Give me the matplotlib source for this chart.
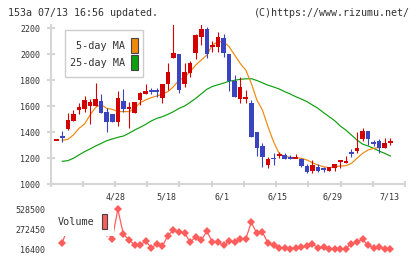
import numpy as np
import matplotlib
matplotlib.use("Agg")
import matplotlib.pyplot as plt
from matplotlib.patches import Rectangle

# ── Data ──────────────────────────────────────────────────────────────────────
opens = [1340, 1360, 1424, 1488, 1570, 1576, 1601, 1601, 1640, 1555,
         1540, 1475, 1640, 1576, 1550, 1648, 1694, 1717, 1717, 1666,
         1768, 1969, 2000, 1768, 1853, 2007, 2136, 2192, 2054, 2059,
         2123, 2002, 1797, 1653, 1658, 1622, 1398, 1293, 1146, 1203,
         1224, 1224, 1203, 1203, 1190, 1141, 1103, 1128, 1113, 1103,
         1126, 1177, 1164, 1241, 1257, 1347, 1408, 1313, 1331, 1280, 1326]
highs = [1340, 1408, 1545, 1570, 1622, 1678, 1658, 1781, 1694, 1583,
         1540, 1719, 1732, 1632, 1632, 1712, 1771, 1737, 1737, 1771,
         1935, 2260, 2000, 1930, 1951, 2157, 2250, 2213, 2105, 2169,
         2154, 2002, 1840, 1822, 1725, 1648, 1398, 1313, 1206, 1236,
         1249, 1241, 1220, 1230, 1198, 1154, 1185, 1154, 1133, 1133,
         1154, 1177, 1216, 1267, 1398, 1429, 1408, 1339, 1344, 1352, 1352]
lows = [1340, 1321, 1416, 1488, 1540, 1558, 1462, 1601, 1545, 1403,
        1475, 1447, 1553, 1434, 1550, 1609, 1694, 1694, 1673, 1622,
        1725, 1969, 1704, 1750, 1822, 1966, 2072, 1969, 2020, 2020,
        1976, 1720, 1668, 1622, 1622, 1360, 1218, 1128, 1121, 1146,
        1198, 1190, 1195, 1198, 1133, 1087, 1082, 1095, 1095, 1103,
        1103, 1121, 1159, 1211, 1236, 1334, 1301, 1290, 1236, 1280, 1301]
closes = [1340, 1360, 1493, 1540, 1596, 1648, 1632, 1653, 1545, 1475,
          1475, 1663, 1578, 1594, 1632, 1704, 1719, 1717, 1717, 1771,
          1863, 2007, 1725, 1863, 1935, 2149, 2192, 2000, 2069, 2131,
          2007, 1797, 1668, 1745, 1668, 1360, 1275, 1206, 1193, 1195,
          1224, 1195, 1203, 1203, 1141, 1092, 1146, 1100, 1113, 1133,
          1154, 1177, 1180, 1241, 1280, 1408, 1347, 1313, 1275, 1313, 1326]
flat_red = [0, 40, 43, 51, 60]   # unchanged days drawn in red

nan = np.nan
ma5 = [nan, 1337, 1344, 1378, 1429, 1462, 1532, 1591, 1612, 1583,
       1576, 1558, 1558, 1558, 1583, 1627, 1648, 1666, 1678, 1694,
       1712, 1750, 1802, 1822, 1866, 1917, 1956, 1994, 2072, 2097,
       2097, 2059, 1994, 1930, 1879, 1776, 1648, 1570, 1442, 1326,
       1236, 1211, 1206, 1203, 1198, 1185, 1164, 1146, 1133, 1126,
       1133, 1139, 1141, 1159, 1198, 1236, 1262, 1275, 1282, nan, nan]
ma25 = [nan, 1175, 1180, 1198, 1224, 1249, 1270, 1293, 1313, 1334,
        1347, 1360, 1370, 1391, 1416, 1437, 1460, 1486, 1506, 1519,
        1537, 1558, 1583, 1601, 1630, 1660, 1695, 1730, 1752, 1765,
        1778, 1792, 1800, 1807, 1811, 1812, 1798, 1780, 1762, 1748,
        1733, 1712, 1694, 1673, 1655, 1635, 1609, 1583, 1550, 1519,
        1488, 1447, 1416, 1378, 1339, 1308, 1293, 1275, 1254, 1236, 1216]
volume = [nan, 97700, 300000, 420000, 380000, 300000, 260000, 290000, 250000, 220000,
          154000, 528500, 206000, 141500, 68000, 72000, 119600, 38300, 80900, 55100,
          193000, 257600, 239600, 226700, 106700, 180200, 132500, 248600, 110600, 106700,
          68000, 119600, 115000, 149300, 149300, 360800, 218900, 235700, 93800, 68000,
          38300, 38300, 20300, 38300, 46100, 55100, 80900, 38300, 51000, 25400,
          25400, 16400, 25400, 89900, 106700, 145400, 68000, 38300, 46100, 20300, 20300]

price_ticks = [1000, 1200, 1400, 1600, 1800, 2000, 2200]
vol_ticks = [16400, 272450, 528500]
date_labels = ["4/28", "5/18", "6/1", "6/15", "6/29", "7/13"]
date_pos = [10.5, 19.8, 29.8, 39.7, 49.6, 59.8]

# ── Style ─────────────────────────────────────────────────────────────────────
RED, BLUE = "#d40000", "#3b44c0"
ORANGE, GREEN = "#f0880a", "#0ca00c"
VOLC = "#ff5c5c"
AXC = "#d6d6d6"
TXT = "#333333"
MONO = "DejaVu Sans Mono"

W, H = 420, 259
XL = (-1.115, 62.64)

fig = plt.figure(figsize=(W / 100, H / 100), dpi=100)

def px_box(x0, y0, x1, y1):
    return [x0 / W, 1 - y1 / H, (x1 - x0) / W, (y1 - y0) / H]

# ── Price panel ───────────────────────────────────────────────────────────────
ax = fig.add_axes(px_box(50.5, 25, 405, 184))
x = np.arange(len(opens))
ax.plot(x, ma25, color=GREEN, lw=0.85, zorder=2)
ax.plot(x, ma5, color=ORANGE, lw=0.85, zorder=2)

for i in x:
    o, h, l, c = opens[i], highs[i], lows[i], closes[i]
    if c > o or (c == o and i in flat_red):
        col = RED
    else:
        col = BLUE
    ax.vlines(i, l, h, color=col, lw=0.8, zorder=3)
    if c == o:
        ax.hlines(c, i - 0.45, i + 0.45, color=col, lw=1.4, zorder=3)
    else:
        ax.bar(i, abs(c - o), bottom=min(o, c), width=0.82, color=col,
               linewidth=0, zorder=3)

ax.set_xlim(*XL)
ax.set_ylim(1000, 2226)
for s in ["top", "right"]:
    ax.spines[s].set_visible(False)
for s in ["left", "bottom"]:
    ax.spines[s].set_color(AXC)
    ax.spines[s].set_linewidth(1.5)
ax.set_yticks(price_ticks)
ax.set_yticklabels([str(v) for v in price_ticks], fontfamily=MONO,
                   fontsize=6, color=TXT)
ax.tick_params(axis="y", direction="inout", length=5.8, width=1.5,
               color=AXC, pad=4.7)
ax.set_xticks(np.linspace(XL[0], XL[1], 12))
ax.set_xticklabels([])
ax.tick_params(axis="x", direction="inout", length=4.8, width=1.5, color=AXC)
for lab, p in zip(date_labels, date_pos):
    ax.text(p, -13.5 / 159, lab, transform=ax.get_xaxis_transform(),
            ha="center", va="center", fontfamily=MONO, fontsize=6, color=TXT)

# ── Volume panel ──────────────────────────────────────────────────────────────
vax = fig.add_axes(px_box(50.5, 209.3, 405, 249.3))
vax.plot(x, volume, color=VOLC, lw=0.9, marker="D", ms=4.2, mew=0,
         clip_on=False, zorder=2)
vax.set_xlim(*XL)
vax.set_ylim(16400, 528500)
for s in vax.spines.values():
    s.set_visible(False)
vax.set_xticks([])
vax.set_yticks(vol_ticks)
vax.set_yticklabels([str(v) for v in vol_ticks], fontfamily=MONO,
                    fontsize=6, color=TXT)
vax.tick_params(axis="y", length=0, pad=4)

# ── Legends ───────────────────────────────────────────────────────────────────
def fig_rect(x0, y0, x1, y1, **kw):
    fig.add_artist(Rectangle((x0 / W, 1 - y1 / H), (x1 - x0) / W, (y1 - y0) / H,
                             transform=fig.transFigure, **kw))

def fig_text(xp, yp, s, **kw):
    fig.text(xp / W, 1 - yp / H, s, fontfamily=MONO, color=TXT, **kw)

fig_rect(65, 30, 143, 77, facecolor="white", edgecolor="#cccccc", lw=1, zorder=10)
fig_text(125, 46, "5-day MA", ha="right", va="center", fontsize=7.3, zorder=11)
fig_text(125, 62.5, "25-day MA", ha="right", va="center", fontsize=7.3, zorder=11)
fig_rect(131, 37.5, 137.5, 53, facecolor=ORANGE, edgecolor="#444444", lw=0.8, zorder=11)
fig_rect(131, 54.5, 137.5, 70, facecolor=GREEN, edgecolor="#444444", lw=0.8, zorder=11)

fig_rect(55, 205, 113.5, 236, facecolor="white", edgecolor="none", zorder=10)
fig_text(58, 221.7, "Volume", ha="left", va="center", fontsize=7.3, zorder=11)
fig_rect(101.5, 213.5, 107.5, 228.5, facecolor=VOLC, edgecolor="#444444", lw=0.8, zorder=11)

# ── Header ────────────────────────────────────────────────────────────────────
fig_text(8, 12.5, "153a 07/13 16:56 updated.", ha="left", va="center", fontsize=7.2)
fig_text(410, 12.5, "(C)https://www.rizumu.net/", ha="right", va="center", fontsize=7.2)

fig.savefig("out.png", dpi=100)
